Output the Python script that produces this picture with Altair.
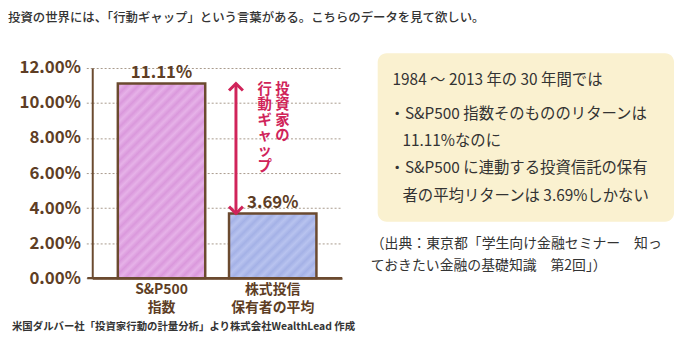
import altair as alt
import pandas as pd

# ---------------- data ----------------
categories = ["S&P500\n指数", "株式投信\n保有者の平均"]
returns = [11.11, 3.69]
value_labels = ["11.11%", "3.69%"]
y_ticks = [0, 2, 4, 6, 8, 10, 12]

title_text = "投資の世界には、「行動ギャップ」という言葉がある。こちらのデータを見て欲しい。"
gap_col1 = ["投", "資", "家", "の"]
gap_col2 = ["行", "動", "ギ", "ャ", "ッ", "プ"]
box_lines = [
    "1984 〜 2013 年の 30 年間では",
    "・S&P500 指数そのもののリターンは",
    "11.11%なのに",
    "・S&P500 に連動する投資信託の保有",
    "者の平均リターンは 3.69%しかない",
]
source_lines = [
    "（出典：東京都「学生向け金融セミナー　知っ",
    "ておきたい金融の基礎知識　第2回」）",
]
footnote = "米国ダルバー社「投資家行動の計量分析」より株式会社WealthLead 作成"

# ---------------- style ----------------
W, H = 252, 212
YMAX = 12
BROWN = "#6b4a2f"
LABEL_BROWN = "#5e3e25"
CRIMSON = "#d0245a"
FONT = "Noto Sans CJK JP"
TEXT_DARK = "#333333"

df = pd.DataFrame({"cat": categories, "ret": returns, "lab": value_labels})


def stripes(w, h, c1, c2, period=8.0):
    k = (w + h) / (w * w + h * h)
    extent = (w + h) / 2 ** 0.5
    n = extent / period
    stops = []
    i = 0
    while True:
        t = i * 0.5 / n
        if t > 1:
            break
        stops.append({"offset": t, "color": c1 if i % 2 == 0 else c2})
        i += 1
    return {"gradient": "linear", "x1": 0, "y1": 0, "x2": k * w, "y2": k * h, "stops": stops}


xscale = alt.Scale(domain=categories, paddingInner=0.214, paddingOuter=0.23)
yscale = alt.Scale(domain=[0, YMAX], nice=False)

x_axis = alt.Axis(
    title=None,
    labelAngle=0,
    ticks=False,
    labelPadding=5,
    labelFontSize=14,
    labelFontWeight="bold",
    labelColor=LABEL_BROWN,
    labelFont=FONT,
    labelLineHeight=18,
    labelBaseline="top",
    labelExpr="split(datum.label, '\\n')",
    domainColor=BROWN,
    domainWidth=2.5,
    grid=False,
)
y_axis = alt.Axis(
    title=None,
    values=y_ticks,
    tickCount=7,
    labelExpr="format(datum.value, '.2f') + '%'",
    labelOverlap=False,
    labelFontSize=17,
    labelFontWeight="bold",
    labelColor=LABEL_BROWN,
    labelFont=FONT,
    labelPadding=5,
    tickSize=7,
    tickColor="#a89a8c",
    tickDash=[2, 2],
    tickWidth=1,
    grid=True,
    gridColor="#a89a8c",
    gridDash=[2, 2],
    gridWidth=1,
    domainColor=BROWN,
    domainWidth=2,
)

base = alt.Chart(df)
x_enc = alt.X("cat:N", scale=xscale, sort=categories, axis=x_axis)
y_enc = alt.Y("ret:Q", scale=yscale, axis=y_axis)

bar_colors = [("#da98dc", "#e6b2e8"), ("#a4b1e6", "#b8c3ef")]
bar_layers = []
bw = 88.2
for cat, val, (c1, c2) in zip(categories, returns, bar_colors):
    h = val / YMAX * H
    bar_layers.append(
        base.transform_filter(alt.datum.cat == cat)
        .mark_bar(fill=stripes(bw, h, c1, c2), stroke=BROWN, strokeWidth=2.5)
        .encode(x=x_enc, y=y_enc)
    )

labels = base.mark_text(
    baseline="bottom", dy=-2, fontSize=17, fontWeight="bold", color=LABEL_BROWN, font=FONT
).encode(x=x_enc, y=y_enc, text="lab:N")

# baseline extension to the left
baseline = base.transform_filter(alt.datum.cat == categories[0]).transform_calculate(
    zero="0"
).mark_rule(color=BROWN, strokeWidth=2.5).encode(
    y=alt.Y("zero:Q", scale=yscale, axis=y_axis), x=alt.value(-5), x2=alt.value(W)
)

# gap arrow (from the S&P500 return down to the holders' return)
gap = base.transform_pivot("cat", value="ret").transform_calculate(
    top=f"datum['{categories[0]}']", bottom=f"datum['{categories[1]}']"
)
gap_df = pd.DataFrame({"top": [returns[0]], "bottom": [returns[1]]})
arrow_x = 145
arrow_line = alt.Chart(gap_df).mark_rule(color=CRIMSON, strokeWidth=3).encode(
    x=alt.value(arrow_x), y=alt.Y("top:Q", scale=yscale, axis=y_axis), y2="bottom:Q"
)
head_up = alt.Chart(gap_df).mark_point(
    shape="M -1 1 L 0 0 L 1 1", size=196, filled=False, stroke=CRIMSON, strokeWidth=3, opacity=1
).encode(x=alt.value(arrow_x), y=alt.Y("top:Q", scale=yscale, axis=y_axis))
head_down = alt.Chart(gap_df).mark_point(
    shape="M -1 -1 L 0 0 L 1 -1", size=196, filled=False, stroke=CRIMSON, strokeWidth=3, opacity=1
).encode(x=alt.value(arrow_x), y=alt.Y("bottom:Q", scale=yscale, axis=y_axis))

one = pd.DataFrame({"d": [0]})
gap_chars = []
for col_chars, cx in ((gap_col1, 192), (gap_col2, 174)):
    for i, ch in enumerate(col_chars):
        gap_chars.append(
            alt.Chart(one).mark_text(
                text=ch, fontSize=14.5, fontWeight="bold", color=CRIMSON, font=FONT,
                baseline="middle", align="center",
            ).encode(x=alt.value(cx), y=alt.value(22 + 15.5 * i))
        )

# title & footnote
title = alt.Chart(one).mark_text(
    text=title_text, fontSize=12.5, color=TEXT_DARK, font=FONT, fontWeight=500, align="left", baseline="middle"
).encode(x=alt.value(-85), y=alt.value(-50))
foot = alt.Chart(one).mark_text(
    text=footnote, fontSize=10.5, fontWeight="bold", color=TEXT_DARK, font=FONT, align="left", baseline="middle"
).encode(x=alt.value(-81), y=alt.value(261))

# right-side box
box = alt.Chart(one).mark_rect(fill="#faf1d0", cornerRadius=9).encode(
    x=alt.value(288), x2=alt.value(587), y=alt.value(-15), y2=alt.value(155)
)
box_pos = [(303, 12), (300, 46), (313, 74), (300, 101), (313, 129)]
box_texts = [
    alt.Chart(one).mark_text(
        text=t, fontSize=15.5, color=TEXT_DARK, font=FONT, align="left", baseline="middle"
    ).encode(x=alt.value(px), y=alt.value(py))
    for t, (px, py) in zip(box_lines, box_pos)
]
src_pos = [(281, 178), (281, 200)]
src_texts = [
    alt.Chart(one).mark_text(
        text=t, fontSize=14, color=TEXT_DARK, font=FONT, align="left", baseline="middle"
    ).encode(x=alt.value(px), y=alt.value(py))
    for t, (px, py) in zip(source_lines, src_pos)
]

chart = alt.layer(
    box,
    *bar_layers,
    baseline,
    labels,
    arrow_line,
    head_up,
    head_down,
    *gap_chars,
    title,
    foot,
    *box_texts,
    *src_texts,
).properties(
    width=W,
    height=H,
    autosize=alt.AutoSizeParams(type="none"),
    padding={"left": 85, "top": 59, "right": 339, "bottom": 74},
    background="white",
).configure_view(stroke=None)

chart.save("out.html", embed_options={"renderer": "svg", "actions": False})
